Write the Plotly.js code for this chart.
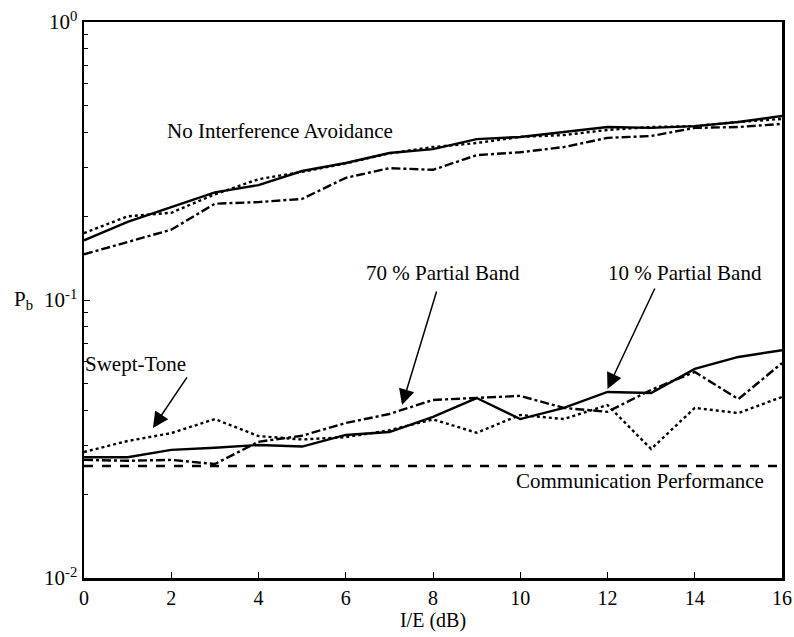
<!DOCTYPE html>
<html>
<head>
<meta charset="utf-8">
<script src="https://cdn.plot.ly/plotly-3.0.1.min.js"></script>
<style>html,body{margin:0;padding:0;background:#fff;}#chart{width:794px;height:637px;}</style>
</head>
<body>
<div id="chart"></div>
<script>
// I/E (dB)
const ie = [0,1,2,3,4,5,6,7,8,9,10,11,12,13,14,15,16];

// No Interference Avoidance group
const noIA_solid   = [0.164,0.191,0.216,0.244,0.259,0.291,0.311,0.338,0.349,0.379,0.386,0.402,0.419,0.416,0.422,0.437,0.459];
const noIA_dotted  = [0.174,0.200,0.206,0.240,0.272,0.289,0.310,0.337,0.355,0.367,0.386,0.392,0.409,0.419,0.422,0.437,0.448];
const noIA_dashdot = [0.146,0.162,0.179,0.222,0.225,0.231,0.275,0.298,0.294,0.332,0.340,0.355,0.383,0.389,0.416,0.419,0.430];

// Avoidance group
const pb10_solid   = [0.0272,0.0272,0.0289,0.0294,0.0301,0.0297,0.0327,0.0335,0.0380,0.0444,0.0373,0.0409,0.0467,0.0463,0.0565,0.0624,0.0660];
const swept_dotted = [0.0284,0.0311,0.0332,0.0373,0.0324,0.0315,0.0321,0.0340,0.0372,0.0333,0.0386,0.0373,0.0419,0.0291,0.0409,0.0392,0.0448];
const pb70_dashdot = [0.0266,0.0264,0.0266,0.0257,0.0309,0.0325,0.0361,0.0389,0.0437,0.0444,0.0452,0.0409,0.0396,0.0475,0.0551,0.0440,0.0593];

// Communication performance reference
const commPerf = [0.0253,0.0253];
const commX = [0,16];

const yTickVals = [0.01,0.1,1];
const yTickText = ['10<sup>-2</sup>','10<sup>-1</sup>','10<sup>0</sup>'];
const xTickVals = [0,2,4,6,8,10,12,14,16];

const minorVals = [];
[0.01,0.1].forEach(d => { for (let k=2;k<=9;k++) minorVals.push(d*k); });

const LW = 2.4;
function tr(x, y, dash, w) {
  return {x:x, y:y, type:'scatter', mode:'lines', line:{color:'#000', width:w||LW, dash:dash}, hoverinfo:'skip', showlegend:false};
}

const data = [
  tr(ie, noIA_solid, 'solid'),
  tr(ie, noIA_dotted, 'dot'),
  tr(ie, noIA_dashdot, 'dashdot'),
  tr(ie, pb10_solid, 'solid'),
  tr(ie, swept_dotted, 'dot'),
  tr(ie, pb70_dashdot, 'dashdot'),
  tr(commX, commPerf, 'dash', 2.6)
];

const FONT = '"Liberation Serif", "Times New Roman", serif';
const AF = {family:FONT, size:21, color:'#000'};

function label(text, x, y) {
  return {text:text, x:x, y:y, xref:'x', yref:'y', showarrow:false, font:AF, xanchor:'center', yanchor:'middle'};
}
function arrow(x, y, ax, ay) {
  return {text:'', x:x, y:y, xref:'x', yref:'y', ax:ax, ay:ay, showarrow:true,
          arrowhead:2, arrowsize:2.1, arrowwidth:1.5, arrowcolor:'#000'};
}

const layout = {
  width:794, height:637,
  margin:{l:84, r:12, t:22, b:59},
  paper_bgcolor:'#fff', plot_bgcolor:'#fff',
  font:{family:FONT, size:20, color:'#000'},
  showlegend:false,
  xaxis:{
    range:[0,16], tickvals:xTickVals, ticks:'inside', ticklen:6, tickwidth:1, tickcolor:'#000',
    showline:true, linewidth:2.5, linecolor:'#000', mirror:true, showgrid:false, zeroline:false,
    tickfont:{family:FONT, size:20},
    title:{text:'I/E (dB)', font:{family:FONT, size:20}, standoff:4}
  },
  yaxis:{
    type:'log', range:[-2,0], tickvals:yTickVals, ticktext:yTickText,
    ticks:'inside', ticklen:6, tickwidth:1, tickcolor:'#000',
    minor:{tickvals:minorVals, ticks:'inside', ticklen:4, tickwidth:1, tickcolor:'#000', showgrid:false},
    showline:true, linewidth:2.5, linecolor:'#000', mirror:true, showgrid:false, zeroline:false,
    tickfont:{family:FONT, size:21}
  },
  annotations:[
    label('No Interference Avoidance', 4.5, -0.392),
    label('70 % Partial Band', 8.23, -0.903),
    label('10 % Partial Band', 13.78, -0.903),
    label('Swept-Tone', 1.17, -1.23),
    label('Communication Performance', 12.75, -1.65),
    arrow(1.58, -1.46, 35, -52),
    arrow(7.29, -1.378, 35, -115),
    arrow(12.0, -1.32, 48, -102),
    {text:'P<sub>b</sub>', xref:'paper', yref:'y', x:-0.086, y:-1, showarrow:false, font:AF, xanchor:'center', yanchor:'middle'}
  ]
};

Plotly.newPlot('chart', data, layout, {displayModeBar:false, staticPlot:true});
</script>
</body>
</html>
